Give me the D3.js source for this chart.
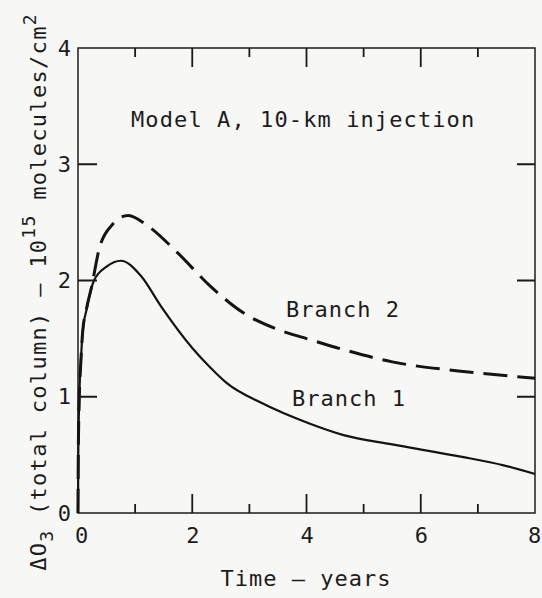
<html>
  <head>
    <title>Model A, 10-km injection</title>
    <script src="https://d3js.org/d3.v7.min.js"></script>
    <style>
      body { margin: 0; background: #f7f7f5; }
      text { font-family: "DejaVu Sans Mono", monospace; fill: #1c1c1c; }
    </style>
  </head>

  <body>
    <svg id="chart" width="542" height="598"></svg>

    <script>

    // values (years, 10^15 molecules/cm^2)
    const years1   = [0, 0.005, 0.02, 0.05, 0.08, 0.15, 0.28, 0.5, 0.75, 1.1, 1.45, 2.0, 2.32, 2.6, 3.2, 4.05, 4.65, 5.5, 6.7, 7.45, 8];
    const branch1  = [0, 0.5, 0.95, 1.3, 1.55, 1.75, 2.0, 2.12, 2.17, 2.04, 1.78, 1.42, 1.25, 1.12, 0.95, 0.77, 0.67, 0.59, 0.485, 0.41, 0.335];
    const years2   = [0, 0.005, 0.02, 0.05, 0.08, 0.15, 0.24, 0.37, 0.6, 0.88, 1.22, 1.74, 2.32, 2.9, 3.49, 4.07, 4.65, 5.5, 6.7, 8];
    const branch2  = [0, 0.5, 0.95, 1.3, 1.55, 1.76, 1.95, 2.27, 2.48, 2.56, 2.47, 2.24, 1.95, 1.72, 1.58, 1.49, 1.405, 1.30, 1.22, 1.16];
    const xMajorTicks = [0, 2, 4, 6, 8];
    const xMinorTicks = [1, 3, 5, 7];
    const yTicks = [0, 1, 2, 3, 4];

    const svg = d3.select("svg#chart");
    const width = +svg.attr("width");
    const height = +svg.attr("height");
    const margins = {"top":48, "right":7, "bottom":85, "left":78};
    const chartWidth = width - margins.left - margins.right;
    const chartHeight = height - margins.top - margins.bottom;

    svg.append("rect").attr("width", width).attr("height", height).attr("fill", "#f7f7f5");

    const plot = svg.append("g")
                    .attr("transform","translate("+margins.left+","+margins.top+")");

    const xScale = d3.scaleLinear().domain([0, 8]).range([0, chartWidth]);
    const yScale = d3.scaleLinear().domain([0, 4]).range([chartHeight, 0]);

    // frame
    plot.append("rect")
        .attr("width", chartWidth).attr("height", chartHeight)
        .attr("fill", "none").attr("stroke", "#1c1c1c").attr("stroke-width", 1.5);

    // tick labels
    let bottomAxis = plot.append("g")
      .attr("transform", "translate(0,"+chartHeight+")")
      .call(d3.axisBottom(xScale).tickValues(xMajorTicks).tickSize(0).tickFormat(d3.format("d")));
    bottomAxis.select(".domain").remove();
    bottomAxis.selectAll("text")
      .attr("font-size", 22).attr("font-family", "DejaVu Sans Mono").attr("fill", "#1c1c1c")
      .attr("y", 14)
      .attr("dx", (d) => d == 0 ? 3 : (d == 8 ? -1 : 0));

    let leftAxis = plot.append("g")
      .call(d3.axisLeft(yScale).tickValues(yTicks).tickSize(0).tickFormat(d3.format("d")));
    leftAxis.select(".domain").remove();
    leftAxis.selectAll("text")
      .attr("font-size", 22).attr("font-family", "DejaVu Sans Mono").attr("fill", "#1c1c1c")
      .attr("x", -7).attr("text-anchor", "end");

    // curves
    const lineGen1 = d3.line()
      .x( (d, i) => xScale(years1[i]) )
      .y( d => yScale(d) )
      .curve(d3.curveMonotoneX);

    const lineGen2 = d3.line()
      .x( (d, i) => xScale(years2[i]) )
      .y( d => yScale(d) )
      .curve(d3.curveMonotoneX);

    plot.append("path")
      .datum(branch2)
      .attr("fill", "none")
      .attr("stroke", "#141414")
      .attr("stroke-width", 3)
      .attr("stroke-dasharray", "24,10")
      .attr("d", lineGen2);

    plot.append("path")
      .datum(branch1)
      .attr("fill", "none")
      .attr("stroke", "#141414")
      .attr("stroke-width", 2.2)
      .attr("d", lineGen1);

    // inward tick marks on all four sides, collected into one path
    const ticks = d3.path();
    xMajorTicks.slice(1, -1).forEach( d => {
      ticks.moveTo(xScale(d), chartHeight); ticks.lineTo(xScale(d), chartHeight - 19);
      ticks.moveTo(xScale(d), 0);           ticks.lineTo(xScale(d), 19);
    });
    xMinorTicks.forEach( d => {
      ticks.moveTo(xScale(d), chartHeight); ticks.lineTo(xScale(d), chartHeight - 9);
      ticks.moveTo(xScale(d), 0);           ticks.lineTo(xScale(d), 9);
    });
    yTicks.slice(1, -1).forEach( d => {
      ticks.moveTo(0, yScale(d));          ticks.lineTo(19, yScale(d));
      ticks.moveTo(chartWidth, yScale(d)); ticks.lineTo(chartWidth - 18, yScale(d));
    });
    svg.append("path")
      .attr("transform","translate("+margins.left+","+margins.top+")")
      .attr("d", ticks.toString())
      .attr("fill", "none")
      .attr("stroke", "#1a1a1a")
      .attr("stroke-width", 1.8);

    // annotations
    svg.append("text")
      .attr("x", 131).attr("y", 127)
      .attr("font-size", 22).attr("letter-spacing", 1.1)
      .text("Model A, 10-km injection");

    svg.append("text")
      .attr("x", 286).attr("y", 317)
      .attr("font-size", 22).attr("letter-spacing", 1)
      .text("Branch 2");

    svg.append("text")
      .attr("x", 292).attr("y", 406)
      .attr("font-size", 22).attr("letter-spacing", 1)
      .text("Branch 1");

    svg.append("text")
      .attr("x", 306).attr("y", 586)
      .attr("text-anchor", "middle")
      .attr("font-size", 22).attr("letter-spacing", 1)
      .text("Time \u2014 years");

    // y label, rotated
    let yLabel = svg.append("text")
      .attr("transform", "translate(46,292) rotate(-90)")
      .attr("text-anchor", "middle")
      .attr("font-size", 22).attr("letter-spacing", 1.3);
    yLabel.append("tspan").text("\u0394O");
    yLabel.append("tspan").attr("dy", 7).attr("font-size", 18).text("3");
    yLabel.append("tspan").attr("dy", -7).text(" (total column) \u2013 10");
    yLabel.append("tspan").attr("dy", -11).attr("font-size", 18).text("15");
    yLabel.append("tspan").attr("dy", 11).text(" molecules/cm");
    yLabel.append("tspan").attr("dy", -10).attr("font-size", 18).text("2");

    </script>

  </body>
</html>
